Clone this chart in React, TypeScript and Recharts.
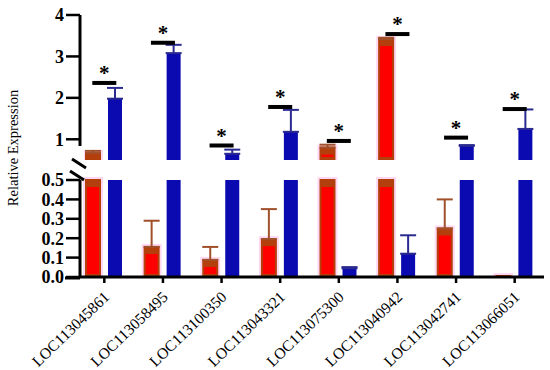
import {
  ComposedChart,
  Bar,
  ErrorBar,
  Scatter,
  XAxis,
  YAxis,
} from 'recharts';

const genes = [
  'LOC113045861',
  'LOC113058495',
  'LOC113100350',
  'LOC113043321',
  'LOC113075300',
  'LOC113040942',
  'LOC113042741',
  'LOC113066051',
];
const redMean = [0.67, 0.155, 0.088, 0.195, 0.8, 3.42, 0.25, 0.005];
const redErr = [0.05, 0.135, 0.067, 0.155, 0.07, 0.03, 0.15, 0];
const blueMean = [1.98, 3.08, 0.65, 1.18, 0.045, 0.12, 0.84, 1.25];
const blueErr = [0.26, 0.2, 0.1, 0.53, 0.006, 0.095, 0.02, 0.47];
const sigLevel = [2.36, 3.33, 0.85, 1.78, 0.96, 3.54, 1.04, 1.73];
const upperTicks = [1, 2, 3, 4];
const lowerTicks = [0, 0.1, 0.2, 0.3, 0.4, 0.5];

const BREAK = 0.5;
const FONT = '"Liberation Serif", "Times New Roman", serif';
const RED = '#ff0000';
const RED_DARK = '#b3400c';
const BLUE = '#0a0ab0';

const upperData = genes.map((gene, i) => ({
  gene,
  red: redMean[i] > BREAK ? redMean[i] : null,
  redE: redMean[i] > BREAK ? [0, redErr[i]] : null,
  blue: blueMean[i] > BREAK ? blueMean[i] : null,
  blueE: blueMean[i] > BREAK ? [0, blueErr[i]] : null,
  sig: sigLevel[i],
}));

const lowerData = genes.map((gene, i) => ({
  gene,
  red: Math.min(redMean[i], BREAK),
  redE: redMean[i] <= BREAK && redErr[i] > 0 ? [0, redErr[i]] : null,
  blue: Math.min(blueMean[i], BREAK),
  blueE: blueMean[i] <= BREAK ? [0, blueErr[i]] : null,
}));

const RedBar = (props: any) => {
  const {x, y, width, height} = props;
  if (!height || height <= 0) return <g />;
  const top = Math.min(7, height);
  return (
    <g>
      <rect x={x - 3} y={y - 3} width={width + 6} height={height + 3} fill="#ffd9f3" />
      <rect x={x} y={y} width={width} height={height} fill={RED} stroke={RED_DARK} strokeWidth={2} />
      <rect x={x} y={y} width={width} height={top} fill={RED_DARK} />
      {height > 10 && <rect x={x} y={y + height - 3} width={width} height={3} fill={RED_DARK} />}
    </g>
  );
};

const SigMark = (props: any) => {
  const {cx, cy} = props;
  if (cx == null || cy == null) return <g />;
  return (
    <g>
      <rect x={cx - 12} y={cy - 2} width={24} height={4} fill="#000" />
      <text x={cx} y={cy - 3} textAnchor="middle" fontFamily={FONT} fontWeight="bold" fontSize={21} fill="#000">
        *
      </text>
    </g>
  );
};

const GeneTick = (props: any) => {
  const {x, y, payload} = props;
  return (
    <g transform={`translate(${x + 6},${y + 13})`}>
      <text textAnchor="end" transform="rotate(-44)" fontFamily={FONT} fontSize={15.5} fill="#000">
        {payload.value}
      </text>
    </g>
  );
};

const makeYTick = (digits: number) => (props: any) => {
  const {x, y, payload} = props;
  return (
    <text
      x={x}
      y={y}
      dy="0.36em"
      textAnchor="end"
      fontFamily={FONT}
      fontWeight="bold"
      fontSize={18}
      fill="#000">
      {Number(payload.value).toFixed(digits)}
    </text>
  );
};
const UpperTick = makeYTick(0);
const LowerTick = makeYTick(1);

const axisLine = {stroke: '#000', strokeWidth: 3};
const tickLine = {stroke: '#000', strokeWidth: 2.5};

export default function App() {
  return (
    <div style={{position: 'absolute', left: 0, top: 0, width: 550, height: 370, background: '#fff'}}>
      <div style={{position: 'absolute', left: 0, top: 0}}>
        <ComposedChart
          width={550}
          height={165}
          data={upperData}
          margin={{top: 15, right: 6, bottom: 5, left: 0}}
          barSize={14}
          barGap={8}>
          <XAxis dataKey="gene" hide padding={{left: -5, right: 0}} />
          <YAxis
            width={80}
            domain={[BREAK, 4]}
            ticks={upperTicks}
            interval={0}
            allowDataOverflow
            tick={<UpperTick />}
            axisLine={axisLine}
            tickLine={tickLine}
            tickSize={14}
            tickMargin={2}
          />
          <Bar dataKey="red" shape={(p: any) => <RedBar {...p} />} isAnimationActive={false}>
            <ErrorBar dataKey="redE" width={8} strokeWidth={2} stroke="#a0502a" />
          </Bar>
          <Bar dataKey="blue" fill={BLUE} isAnimationActive={false}>
            <ErrorBar dataKey="blueE" width={8} strokeWidth={2} stroke="#2a2a90" />
          </Bar>
          <Scatter dataKey="sig" shape={(p: any) => <SigMark {...p} />} isAnimationActive={false} />
        </ComposedChart>
      </div>
      <div style={{position: 'absolute', left: 0, top: 165}}>
        <ComposedChart
          width={550}
          height={205}
          data={lowerData}
          margin={{top: 15, right: 6, bottom: 0, left: 0}}
          barSize={14}
          barGap={8}>
          <XAxis
            dataKey="gene"
            padding={{left: -5, right: 0}}
            height={93}
            interval={0}
            tick={<GeneTick />}
            axisLine={axisLine}
            tickLine={tickLine}
            tickSize={6}
            tickMargin={2}
          />
          <YAxis
            width={80}
            domain={[0, BREAK]}
            ticks={lowerTicks}
            interval={0}
            tick={<LowerTick />}
            axisLine={axisLine}
            tickLine={tickLine}
            tickSize={14}
            tickMargin={2}
          />
          <Bar dataKey="red" shape={(p: any) => <RedBar {...p} />} isAnimationActive={false}>
            <ErrorBar dataKey="redE" width={8} strokeWidth={2} stroke="#a0502a" />
          </Bar>
          <Bar dataKey="blue" fill={BLUE} isAnimationActive={false}>
            <ErrorBar dataKey="blueE" width={8} strokeWidth={2} stroke="#2a2a90" />
          </Bar>
        </ComposedChart>
      </div>
      <svg width={550} height={370} style={{position: 'absolute', left: 0, top: 0, pointerEvents: 'none'}}>
        <rect x={76} y={146} width={8} height={14} fill="#fff" />
        <line x1={72} y1={159} x2={86} y2={168} stroke="#000" strokeWidth={3} />
        <line x1={70} y1={171} x2={84} y2={180} stroke="#000" strokeWidth={3} />
        <line x1={65} y1={278} x2={80} y2={278} stroke="#000" strokeWidth={3} />
        <text
          transform="translate(18,148) rotate(-90)"
          textAnchor="middle"
          fontFamily={FONT}
          fontSize={14.5}
          fill="#000">
          Relative Expression
        </text>
      </svg>
    </div>
  );
}
